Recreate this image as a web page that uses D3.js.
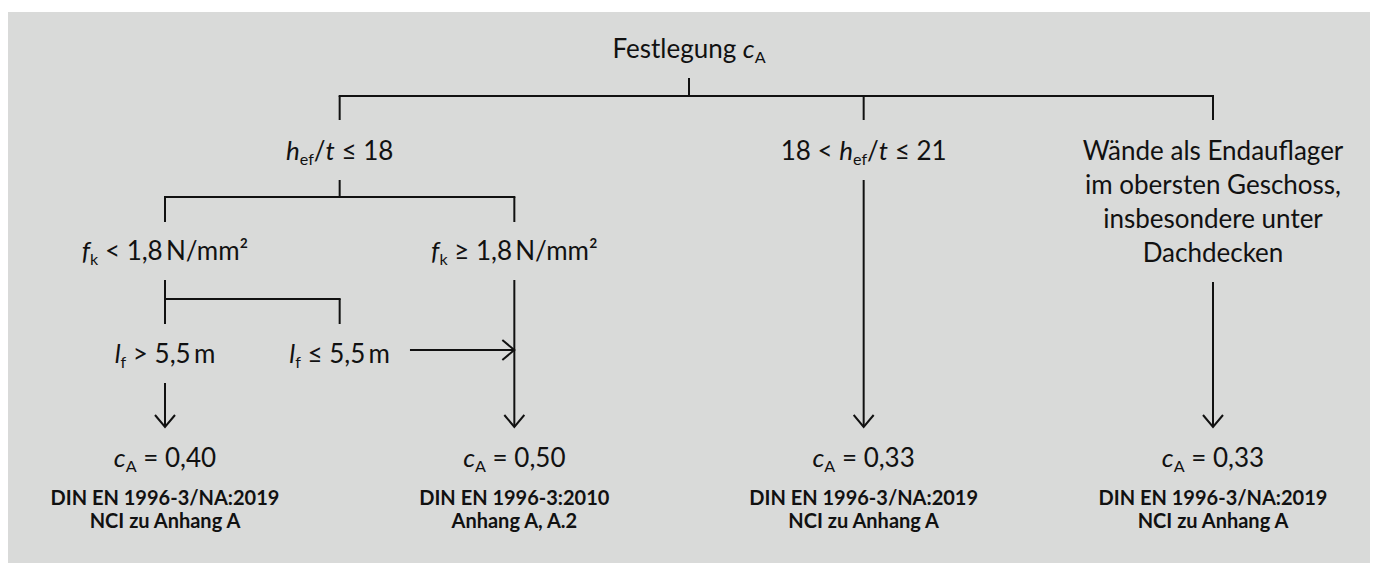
<!DOCTYPE html>
<html>
<head>
<meta charset="utf-8">
<script src="https://cdn.jsdelivr.net/npm/d3@7"></script>
<style>
  html, body { margin: 0; padding: 0; background: #fff; }
  svg { display: block; font-family: Lato, "Open Sans", sans-serif; }
</style>
</head>
<body>
<div id="chart"></div>
<script>
// nodes of the decision tree: column index, level, text segments [text, style]
// style: "i" = italic, "s" = subscript, undefined = plain
const nodes = [
  { id: "root", col: 3, level: "title", lines: [[["Festlegung "], ["c", "i"], ["A", "s"]]] },
  { id: "h18", col: 1, level: "cond1", lines: [[["h", "i"], ["ef", "s"], ["/"], ["t", "i"], [" ≤ 18"]]] },
  { id: "h21", col: 4, level: "cond1", lines: [[["18 < "], ["h", "i"], ["ef", "s"], ["/"], ["t", "i"], [" ≤ 21"]]] },
  {
    id: "wall", col: 6, level: "cond1",
    lines: [[["Wände als Endauflager"]], [["im obersten Geschoss,"]], [["insbesondere unter"]], [["Dachdecken"]]],
  },
  { id: "fkLow", col: 0, level: "cond2", lines: [[["f", "i"], ["k", "s"], [" < 1,8\u2009N/mm²"]]] },
  { id: "fkHigh", col: 2, level: "cond2", lines: [[["f", "i"], ["k", "s"], [" ≥ 1,8\u2009N/mm²"]]] },
  { id: "lfHigh", col: 0, level: "cond3", lines: [[["l", "i"], ["f", "s"], [" > 5,5\u2009m"]]] },
  { id: "lfLow", col: 1, level: "cond3", lines: [[["l", "i"], ["f", "s"], [" ≤ 5,5\u2009m"]]] },
];

const resultCols = [0, 2, 4, 6];
const resultValues = ["0,40", "0,50", "0,33", "0,33"];
const sources = [
  ["DIN EN 1996-3/NA:2019", "NCI zu Anhang A"],
  ["DIN EN 1996-3:2010", "Anhang A, A.2"],
  ["DIN EN 1996-3/NA:2019", "NCI zu Anhang A"],
  ["DIN EN 1996-3/NA:2019", "NCI zu Anhang A"],
];

// brackets: parent node branches to children
const brackets = [
  { parent: "root", children: ["h18", "h21", "wall"] },
  { parent: "h18", children: ["fkLow", "fkHigh"] },
  { parent: "fkLow", children: ["lfHigh", "lfLow"] },
];

// arrows: from node down to result column, or sideways into a column line
const downArrows = [
  { from: "lfHigh", result: 0 },
  { from: "fkHigh", result: 1 },
  { from: "h21", result: 2 },
  { from: "wall", result: 3 },
];
const sideArrows = [{ from: "lfLow", toCol: 2 }];

// ---------------- layout ----------------
const W = 1375, H = 563;
const FONT = 26;
const LINE_H = 34;
const STROKE = "#111";

const x = d3.scaleLinear().domain([0, 6]).range([165, 1213]);
const baseline = d3.scaleOrdinal()
  .domain(["title", "cond1", "cond2", "cond3", "result", "src1", "src2"])
  .range([58, 160, 260, 363, 467, 505, 528]);
// y of the bracket bar below each level, and where the drops end
const bracketBar = d3.scaleOrdinal().domain(["title", "cond1", "cond2"]).range([96, 197, 299]);
const dropEnd = d3.scaleOrdinal().domain(["title", "cond1", "cond2"]).range([120, 222, 324]);
const arrowTip = 427;

const byId = new Map(nodes.map((d) => [d.id, d]));
const lastBaseline = (d) => baseline(d.level) + (d.lines.length - 1) * LINE_H;

d3.select("#chart").html("");
const svg = d3.select("#chart").append("svg").attr("width", W).attr("height", H);

svg.append("rect")
  .attr("x", 8).attr("y", 12)
  .attr("width", 1362).attr("height", H - 12)
  .attr("fill", "#d9dad9");

svg.append("defs").append("marker")
  .attr("id", "arrow")
  .attr("viewBox", "-14 -11 16 22")
  .attr("refX", 0).attr("refY", 0)
  .attr("markerWidth", 16).attr("markerHeight", 22)
  .attr("markerUnits", "userSpaceOnUse")
  .attr("orient", "auto")
  .append("path")
  .attr("d", "M-12,-10L0,0L-12,10")
  .attr("fill", "none")
  .attr("stroke", STROKE)
  .attr("stroke-width", 2);

const lines = svg.append("g").attr("class", "lines")
  .attr("stroke", STROKE).attr("stroke-width", 2).attr("fill", "none");
const labels = svg.append("g").attr("class", "labels")
  .attr("fill", "#111").attr("text-anchor", "middle").attr("font-size", FONT);

function writeSegments(textSel, segs) {
  segs.forEach(([t, style], k) => {
    const prev = k > 0 ? segs[k - 1][1] : null;
    const ts = textSel.append("tspan").text(t);
    if (style === "i") ts.attr("font-style", "italic");
    if (style === "s") ts.attr("font-size", FONT * 0.62).attr("dy", 5);
    else if (prev === "s") ts.attr("dy", -5);
  });
}

// node labels
nodes.forEach((d) => {
  d.lines.forEach((segs, li) => {
    const t = labels.append("text")
      .attr("x", x(d.col))
      .attr("y", baseline(d.level) + li * LINE_H);
    writeSegments(t, segs);
    d.textNode = t.node();
  });
});

// results
resultCols.forEach((col, i) => {
  const t = labels.append("text").attr("x", x(col)).attr("y", baseline("result"));
  writeSegments(t, [["c", "i"], ["A", "s"], [" = " + resultValues[i]]]);
  sources[i].forEach((s, li) => {
    labels.append("text")
      .attr("x", x(col))
      .attr("y", baseline(li === 0 ? "src1" : "src2"))
      .attr("font-size", 20)
      .attr("font-weight", "bold")
      .text(s);
  });
});

// brackets
brackets.forEach((b) => {
  const p = byId.get(b.parent);
  const kids = b.children.map((id) => byId.get(id));
  const bar = bracketBar(p.level);
  const top = lastBaseline(p) + 20;
  const cols = kids.map((k) => k.col).concat([p.col]);
  lines.append("line")
    .attr("x1", x(p.col)).attr("x2", x(p.col))
    .attr("y1", top).attr("y2", bar);
  lines.append("line")
    .attr("x1", x(d3.min(cols)) - 1).attr("x2", x(d3.max(cols)) + 1)
    .attr("y1", bar).attr("y2", bar);
  kids.forEach((k) => {
    lines.append("line")
      .attr("x1", x(k.col)).attr("x2", x(k.col))
      .attr("y1", bar).attr("y2", dropEnd(p.level));
  });
});

// down arrows
downArrows.forEach((a) => {
  const n = byId.get(a.from);
  lines.append("line")
    .attr("x1", x(resultCols[a.result])).attr("x2", x(resultCols[a.result]))
    .attr("y1", lastBaseline(n) + 20).attr("y2", arrowTip)
    .attr("marker-end", "url(#arrow)");
});

// side arrows
sideArrows.forEach((a) => {
  const n = byId.get(a.from);
  const w = n.textNode.getComputedTextLength();
  lines.append("line")
    .attr("x1", x(n.col) + w / 2 + 20).attr("x2", x(a.toCol))
    .attr("y1", baseline(n.level) - 13).attr("y2", baseline(n.level) - 13)
    .attr("marker-end", "url(#arrow)");
});
</script>
</body>
</html>
